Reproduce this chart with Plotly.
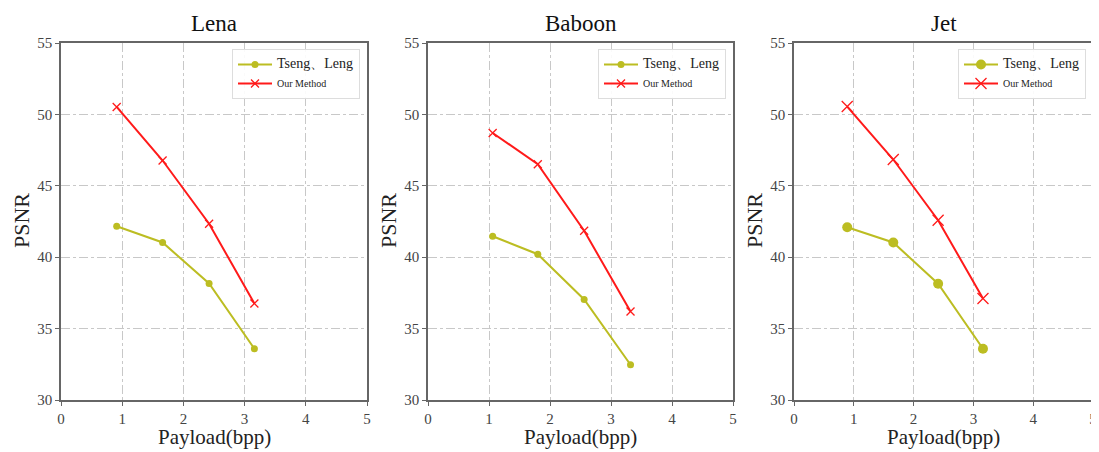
import plotly.graph_objects as go

titles = ["Lena", "Baboon", "Jet"]
series_names = ["Tseng、Leng", "Our Method"]

lena_x = [0.91, 1.66, 2.42, 3.16]
lena_tseng = [42.17, 41.03, 38.16, 33.59]
lena_ours = [50.52, 46.77, 42.34, 36.76]

baboon_x = [1.06, 1.80, 2.56, 3.32]
baboon_tseng = [41.47, 40.21, 37.04, 32.47]
baboon_ours = [48.70, 46.51, 41.85, 36.20]

jet_x = [0.89, 1.66, 2.41, 3.16]
jet_tseng = [42.10, 41.03, 38.14, 33.59]
jet_ours = [50.55, 46.84, 42.59, 37.11]

xs = [lena_x, baboon_x, jet_x]
tsengs = [lena_tseng, baboon_tseng, jet_tseng]
ours = [lena_ours, baboon_ours, jet_ours]

x_ticks = [0, 1, 2, 3, 4, 5]
y_ticks = [30, 35, 40, 45, 50, 55]

# page body has an 8px margin; figure is sized to fit the viewport
OFF = 8
W, H = 1099 - OFF, 452 - OFF


def px(x):
    return (x - OFF) / W


def py(y):
    return 1 - (y - OFF) / H


x_doms = [(61, 367), (428, 733), (794, 1093)]
y_top, y_bot = 43, 400

OLIVE = "#bcbd22"
RED = "#ff1a1a"
SERIF = "Liberation Serif, DejaVu Serif, serif"

fig = go.Figure()
marker_sizes = [(7, 8), (7, 8), (10, 11)]

for i in range(3):
    sfx = "" if i == 0 else str(i + 1)
    leg = "legend" if i == 0 else f"legend{i+1}"
    ms_c, ms_x = marker_sizes[i]
    fig.add_trace(go.Scatter(
        x=xs[i], y=tsengs[i], mode="lines+markers",
        name="<span style='font-size:14px'>" + series_names[0] + "</span>",
        line=dict(color=OLIVE, width=2),
        marker=dict(symbol="circle", size=ms_c, color=OLIVE),
        xaxis="x" + sfx, yaxis="y" + sfx, legend=leg))
    fig.add_trace(go.Scatter(
        x=xs[i], y=ours[i], mode="lines+markers",
        name=series_names[1],
        line=dict(color=RED, width=2),
        marker=dict(symbol="x-thin", size=ms_x, color=RED, line=dict(color=RED, width=1.3)),
        xaxis="x" + sfx, yaxis="y" + sfx, legend=leg))

layout = dict(
    width=W, height=H, margin=dict(l=0, r=0, t=0, b=0, autoexpand=False),
    plot_bgcolor="white", paper_bgcolor="white",
    font=dict(family=SERIF, color="#333333"),
    showlegend=True, annotations=[],
)

for i in range(3):
    sfx = "" if i == 0 else str(i + 1)
    x0, x1 = x_doms[i]
    dom_x = [px(x0), px(x1)]
    dom_y = [py(y_bot), py(y_top)]
    axcommon = dict(
        showline=True, linecolor="#666666", linewidth=1.5, mirror=True,
        ticks="outside", ticklen=4, tickcolor="#666666",
        showgrid=True, gridcolor="#c8c8c8", griddash="dashdot", gridwidth=1,
        zeroline=False, automargin=False,
        tickfont=dict(size=15, family=SERIF, color="#444444"),
    )
    layout["xaxis" + sfx] = dict(
        domain=dom_x, range=[0, 5], tickvals=x_ticks,
        anchor="y" + sfx, **axcommon)
    layout["yaxis" + sfx] = dict(
        domain=dom_y, range=[30, 55], tickvals=y_ticks,
        anchor="x" + sfx, **axcommon)
    leg = "legend" if i == 0 else f"legend{i+1}"
    layout[leg] = dict(
        x=px(x1 - 7), y=py(49), xanchor="right", yanchor="top",
        bgcolor="rgba(255,255,255,0.9)", bordercolor="#dddddd", borderwidth=1,
        font=dict(size=10, family=SERIF, color="#222222"),
        tracegroupgap=0, itemwidth=34,
    )
    cx = px((x0 + x1) / 2)
    layout["annotations"].append(dict(
        text=titles[i], x=cx, y=py(9), xref="paper", yref="paper",
        showarrow=False, font=dict(size=23, family=SERIF, color="#111111"),
        xanchor="center", yanchor="top"))
    layout["annotations"].append(dict(
        text="Payload(bpp)", x=cx, y=py(437), xref="paper", yref="paper",
        showarrow=False, font=dict(size=21, family=SERIF, color="#222222"),
        xanchor="center", yanchor="middle"))
    layout["annotations"].append(dict(
        text="PSNR", x=px(x0 - 40), y=py(221), xref="paper", yref="paper",
        showarrow=False, textangle=-90, font=dict(size=22, family=SERIF, color="#222222"),
        xanchor="center", yanchor="middle"))

fig.update_layout(**layout)
fig.write_html("out.html")
